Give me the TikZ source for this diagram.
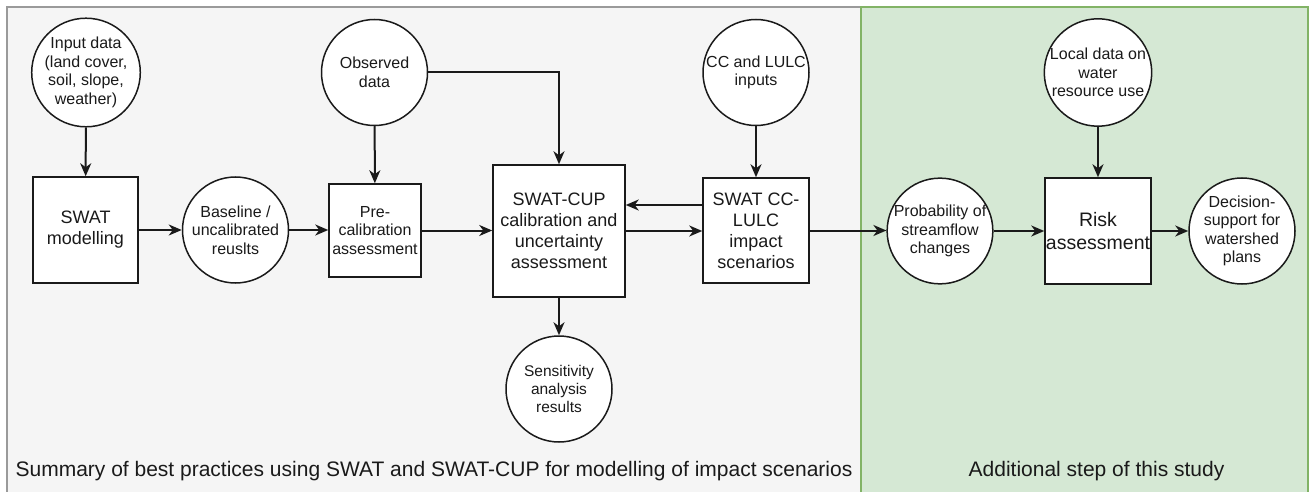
\documentclass[tikz,border=0pt]{standalone}
\usepackage{fontspec}
\setmainfont{Liberation Sans}
\usetikzlibrary{arrows.meta}
\definecolor{panelgray}{HTML}{F5F5F5}
\definecolor{panelgrayline}{HTML}{9A9A9A}
\definecolor{panelgreen}{HTML}{D5E8D4}
\definecolor{panelgreenline}{HTML}{82B366}
\definecolor{ink}{HTML}{1A1A1A}
\tikzset{arrtip/.tip={Stealth[length=13pt,width=11pt,inset=4pt]}}
\begin{document}
\begin{tikzpicture}[x=1pt,y=-1pt,
  circ/.style={circle, draw=ink, fill=white, line width=1.5pt, minimum size=106pt, inner sep=0pt, align=center, text=ink, font=\fontsize{16}{18.5}\selectfont},
  boxn/.style={rectangle, draw=ink, fill=white, line width=1.5pt, inner sep=0pt, align=center, text=ink, font=\fontsize{18}{21}\selectfont},
  arr/.style={draw=ink, line width=2pt, -arrtip},
  caption/.style={text=ink, font=\fontsize{21}{24}\selectfont}]
\useasboundingbox (0,0) rectangle (1310,492);
\fill[white] (0,0) rectangle (1310,492);
% panels
\draw[fill=panelgray, draw=panelgrayline, line width=1.8pt] (7,7) rectangle (861,500);
\draw[fill=panelgreen, draw=panelgreenline, line width=1.8pt] (861,7) rectangle (1308,500);
% nodes
\node[circ] (input) at (86,72.5) {Input data\\(land cover,\\soil, slope,\\weather)};
\node[boxn, minimum width=105pt, minimum height=106pt] (swat) at (85.5,230) {SWAT\\modelling};
\node[circ] (base) at (235.5,230) {Baseline /\\uncalibrated\\reuslts};
\node[circ] (obs) at (374.5,72.5) {Observed\\data};
\node[boxn, minimum width=92pt, minimum height=93pt, font=\fontsize{16}{18.5}\selectfont] (pre) at (375,230.5) {Pre-\\calibration\\assessment};
\node[boxn, minimum width=132pt, minimum height=132pt] (cup) at (559,231) {SWAT-CUP\\calibration and\\uncertainty\\assessment};
\node[circ] (ccin) at (756,72.5) {CC and LULC\\inputs};
\node[boxn, minimum width=106pt, minimum height=105pt] (cc) at (756,230.5) {SWAT CC-\\LULC\\impact\\scenarios};
\node[circ, font=\fontsize{15.5}{18}\selectfont] (sens) at (559,389) {Sensitivity\\analysis\\results};
\node[circ, minimum size=104pt] (prob) at (940,231) {Probability of\\streamflow\\changes};
\node[circ] (local) at (1098,72.5) {Local data on\\water\\resource use};
\node[boxn, minimum width=106pt, minimum height=106pt, font=\fontsize{19.5}{22.5}\selectfont] (risk) at (1098,231) {Risk\\assessment};
\node[circ] (dec) at (1242,231) {Decision-\\support for\\watershed\\plans};
% captions
\node[caption] (cap1) at (434,471) {Summary of best practices using SWAT and SWAT-CUP for modelling of impact scenarios};
\node[caption] (cap2) at (1096.5,471) {Additional step of this study};
% connectors
\draw[arr] (input) -- (swat);
\draw[arr] (swat.east |- base.west) -- (base.west);
\draw[arr] (base.east) -- (base.east -| pre.west);
\draw[arr] (obs) -- (pre);
\draw[arr] (pre.east) -- (pre.east -| cup.west);
\draw[arr] (obs.east) -| (cup.north);
\draw[arr] (ccin) -- (cc);
\draw[arr] (cc.west |- 0,205) -- (cup.east |- 0,205);
\draw[arr] (cup.east) -- (cup.east -| cc.west);
\draw[arr] (cup) -- (sens);
\draw[arr] (cc.east) -- (cc.east -| prob.west);
\draw[arr] (prob.east) -- (prob.east -| risk.west);
\draw[arr] (local) -- (risk);
\draw[arr] (risk.east) -- (risk.east -| dec.west);
\end{tikzpicture}
\end{document}
